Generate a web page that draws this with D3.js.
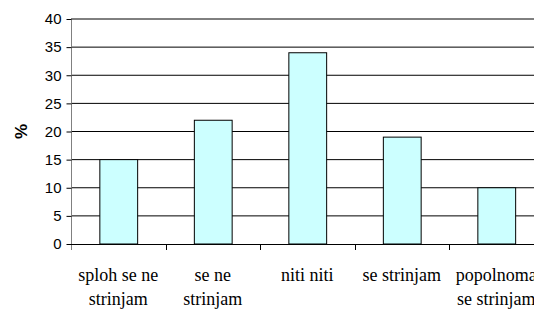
<!doctype html>
<html>
<head>
<meta charset="utf-8">
<script src="https://d3js.org/d3.v7.min.js"></script>
<style>
	body { margin: 0; background: #fff; }
	svg { display: block; }
</style>
</head>
<body>
<div id="chart"></div>
<script>
	// answer categories (each line of a label is one entry)
	var categories = [
		["sploh se ne", "strinjam"],
		["se ne", "strinjam"],
		["niti niti"],
		["se strinjam"],
		["popolnoma", "se strinjam"]
	];
	var values = [15, 22, 34, 19, 10];
	var yTicks = [0, 5, 10, 15, 20, 25, 30, 35, 40];

	var width = 534, height = 309;
	var plotLeft = 71, plotRight = 543.5, plotTop = 19, plotBottom = 244;
	var sans = "'Liberation Sans', Arial, sans-serif";
	var serif = "'Liberation Serif', 'Times New Roman', serif";

	var svg = d3.select("#chart")
		.append("svg")
		.attr("width", width)
		.attr("height", height);

	var x = d3.scaleBand()
		.domain(d3.range(categories.length))
		.range([plotLeft, plotRight])
		.paddingInner(0.6)
		.paddingOuter(0.3);

	var y = d3.scaleLinear()
		.domain([0, 40])
		.range([plotBottom, plotTop]);

	// horizontal grid
	svg.append("g")
		.selectAll("line")
		.data(yTicks.slice(1))
		.enter()
		.append("line")
		.attr("x1", plotLeft)
		.attr("x2", width)
		.attr("y1", d => y(d))
		.attr("y2", d => y(d))
		.attr("stroke", "#000")
		.attr("stroke-width", 1);

	// bars
	svg.append("g")
		.selectAll("rect")
		.data(values)
		.enter()
		.append("rect")
		.attr("x", (d, i) => x(i) + 0.5)
		.attr("y", d => y(d))
		.attr("width", x.bandwidth())
		.attr("height", d => plotBottom - y(d))
		.attr("fill", "#ccffff")
		.attr("stroke", "#000")
		.attr("stroke-width", 1);

	// y axis
	var yAxis = svg.append("g")
		.attr("transform", "translate(" + (plotLeft + 0.5) + ",0)")
		.call(d3.axisLeft(y).tickValues(yTicks).tickSize(5).tickPadding(5));
	yAxis.select(".domain").attr("stroke", "#808080").attr("d", "M0," + plotTop + "V" + (plotBottom + 6));
	yAxis.selectAll(".tick line").attr("stroke", "#000");
	yAxis.selectAll("text")
		.style("font-family", sans)
		.style("font-size", "15px")
		.attr("fill", "#000");

	// x axis line and category boundary ticks
	svg.append("line")
		.attr("x1", plotLeft)
		.attr("x2", width)
		.attr("y1", plotBottom + 0.5)
		.attr("y2", plotBottom + 0.5)
		.attr("stroke", "#000");

	var step = x.step();
	svg.append("g")
		.selectAll("line")
		.data(d3.range(1, categories.length))
		.enter()
		.append("line")
		.attr("x1", i => Math.round(x(i) - step * 0.3) + 0.5)
		.attr("x2", i => Math.round(x(i) - step * 0.3) + 0.5)
		.attr("y1", plotBottom)
		.attr("y2", plotBottom + 6)
		.attr("stroke", "#000");

	// category labels
	var labels = svg.append("g")
		.selectAll("text")
		.data(categories)
		.enter()
		.append("text")
		.attr("text-anchor", "middle")
		.style("font-family", serif)
		.style("font-size", "18px")
		.attr("fill", "#000")
		.attr("transform", (d, i) => "translate(" + (x(i) + x.bandwidth() / 2) + ",281)");
	labels.selectAll("tspan")
		.data(d => d)
		.enter()
		.append("tspan")
		.attr("x", 0)
		.attr("y", (d, i) => i * 24)
		.text(d => d);

	// y axis title
	svg.append("text")
		.attr("transform", "translate(27," + ((plotTop + plotBottom) / 2) + ") rotate(-90)")
		.attr("text-anchor", "middle")
		.style("font-family", sans)
		.style("font-weight", "bold")
		.style("font-size", "17px")
		.text("%");
</script>
</body>
</html>
